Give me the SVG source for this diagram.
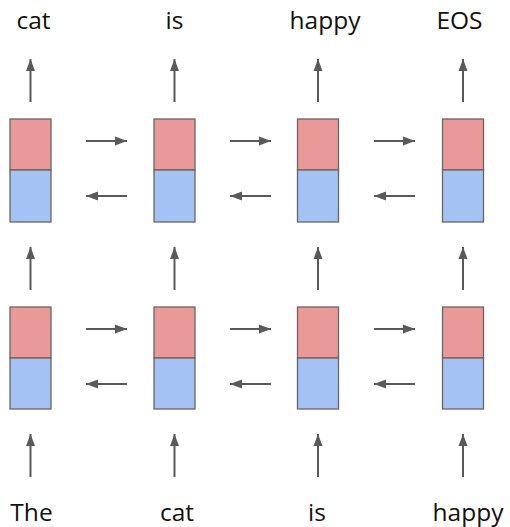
<svg xmlns="http://www.w3.org/2000/svg" width="510" height="527" viewBox="0 0 510 527">
<style>
.t{font-family:"Open Sans","Liberation Sans",sans-serif;font-size:24.5px;fill:#111;text-anchor:middle}
.r{fill:#EA9999;stroke:#666;stroke-width:1.3}
.b{fill:#A4C2F4;stroke:#666;stroke-width:1.3}
.a{stroke:#595959;stroke-width:2;fill:none;marker-end:url(#ah)}
</style>
<defs>
<marker id="ah" markerUnits="userSpaceOnUse" markerWidth="12" markerHeight="10" refX="12" refY="5" orient="auto">
<path d="M0,0.5 L12,5 L0,9.5 Z" fill="#595959"/>
</marker>
</defs>
<rect width="510" height="527" fill="#fff"/>
<g id="connectors">
<line class="a" x1="30.5" y1="102" x2="30.5" y2="59"/>
<line class="a" x1="174.5" y1="102" x2="174.5" y2="59"/>
<line class="a" x1="318" y1="102" x2="318" y2="59"/>
<line class="a" x1="463" y1="102" x2="463" y2="59"/>
<line class="a" x1="30.5" y1="290" x2="30.5" y2="247"/>
<line class="a" x1="174.5" y1="290" x2="174.5" y2="247"/>
<line class="a" x1="318" y1="290" x2="318" y2="247"/>
<line class="a" x1="463" y1="290" x2="463" y2="247"/>
<line class="a" x1="30.5" y1="477" x2="30.5" y2="434"/>
<line class="a" x1="174.5" y1="477" x2="174.5" y2="434"/>
<line class="a" x1="318" y1="477" x2="318" y2="434"/>
<line class="a" x1="463" y1="477" x2="463" y2="434"/>
<line class="a" x1="86" y1="141" x2="127" y2="141"/>
<line class="a" x1="230" y1="141" x2="271" y2="141"/>
<line class="a" x1="374" y1="141" x2="415" y2="141"/>
<line class="a" x1="127" y1="196" x2="86" y2="196"/>
<line class="a" x1="271" y1="196" x2="230" y2="196"/>
<line class="a" x1="415" y1="196" x2="374" y2="196"/>
<line class="a" x1="86" y1="329" x2="127" y2="329"/>
<line class="a" x1="230" y1="329" x2="271" y2="329"/>
<line class="a" x1="374" y1="329" x2="415" y2="329"/>
<line class="a" x1="127" y1="384" x2="86" y2="384"/>
<line class="a" x1="271" y1="384" x2="230" y2="384"/>
<line class="a" x1="415" y1="384" x2="374" y2="384"/>
</g>
<g id="top1"><rect class="r" x="10" y="119" width="41" height="51"/><rect class="b" x="10" y="170" width="41" height="52"/></g>
<g id="top2"><rect class="r" x="154" y="119" width="41" height="51"/><rect class="b" x="154" y="170" width="41" height="52"/></g>
<g id="top3"><rect class="r" x="297.5" y="119" width="41" height="51"/><rect class="b" x="297.5" y="170" width="41" height="52"/></g>
<g id="top4"><rect class="r" x="442.5" y="119" width="41" height="51"/><rect class="b" x="442.5" y="170" width="41" height="52"/></g>
<g id="bot1"><rect class="r" x="10" y="307" width="41" height="51"/><rect class="b" x="10" y="358" width="41" height="51"/></g>
<g id="bot2"><rect class="r" x="154" y="307" width="41" height="51"/><rect class="b" x="154" y="358" width="41" height="51"/></g>
<g id="bot3"><rect class="r" x="297.5" y="307" width="41" height="51"/><rect class="b" x="297.5" y="358" width="41" height="51"/></g>
<g id="bot4"><rect class="r" x="442.5" y="307" width="41" height="51"/><rect class="b" x="442.5" y="358" width="41" height="51"/></g>
<g id="out1"><text class="t" x="33.5" y="28.5">cat</text></g>
<g id="out2"><text class="t" x="174.5" y="28.5">is</text></g>
<g id="out3"><text class="t" x="325" y="28.5">happy</text></g>
<g id="out4"><text class="t" x="459.5" y="28.5">EOS</text></g>
<g id="in1"><text class="t" x="31.5" y="520.5">The</text></g>
<g id="in2"><text class="t" x="177" y="520.5">cat</text></g>
<g id="in3"><text class="t" x="317" y="520.5">is</text></g>
<g id="in4"><text class="t" x="468" y="520.5">happy</text></g>
</svg>
